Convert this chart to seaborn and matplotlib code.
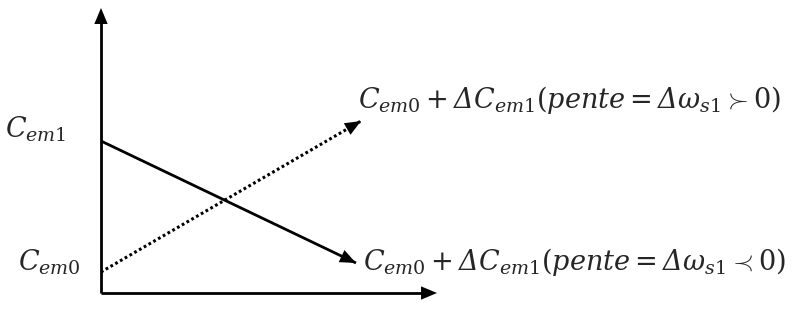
import matplotlib
matplotlib.use("Agg")
import matplotlib.pyplot as plt
import seaborn as sns
import pandas as pd

# Schematic torque lines (x: time from the start of the step, y: torque)
t_solid = [0, 255]
c_solid = [152, 30]          # from C_em1 down, slope < 0
t_dotted = [0, 260]
c_dotted = [21, 172]         # from C_em0 up, slope > 0

axis_x_len = 336
axis_y_len = 285

# \mathsf is mapped to the italic face below so that the capital Delta slants
lbl_cem1 = r"$C_{em1}$"
lbl_cem0 = r"$C_{em0}$"
lbl_up = r"$C_{em0}+\mathsf{\Delta} C_{em1}(pente=\mathsf{\Delta}\omega_{s1}\succ 0)$"
lbl_down = r"$C_{em0}+\mathsf{\Delta} C_{em1}(pente=\mathsf{\Delta}\omega_{s1}\prec 0)$"

sns.set_style("white")
plt.rcParams["mathtext.fontset"] = "custom"
plt.rcParams["mathtext.rm"] = "DejaVu Serif"
plt.rcParams["mathtext.it"] = "DejaVu Serif:italic"
plt.rcParams["mathtext.bf"] = "DejaVu Serif:bold"
plt.rcParams["mathtext.sf"] = "DejaVu Serif:italic"

fig = plt.figure(figsize=(7.92, 3.27), dpi=100)
ax = fig.add_axes([0, 0, 1, 1])
ax.set_xlim(-101, 691)
ax.set_ylim(-34, 293)
ax.axis("off")

solid = pd.DataFrame({"t": t_solid, "c": c_solid})
dotted = pd.DataFrame({"t": t_dotted, "c": c_dotted})
sns.lineplot(data=solid, x="t", y="c", ax=ax, color="black", lw=2.0,
             solid_capstyle="butt")
sns.lineplot(data=dotted, x="t", y="c", ax=ax, color="black", lw=2.2,
             linestyle=(0, (0.9, 0.9)))

head = dict(arrowstyle="-|>,head_length=11.5,head_width=4.8",
            color="black", lw=0, mutation_scale=1, shrinkA=0, shrinkB=0)


def arrowhead(p0, p1):
    # filled triangle whose tip sits on p1, oriented along p0 -> p1
    ax.annotate("", xy=p1, xytext=p0, arrowprops=head)


arrowhead((t_solid[0], c_solid[0]), (t_solid[1], c_solid[1]))
arrowhead((t_dotted[0], c_dotted[0]), (t_dotted[1], c_dotted[1]))

# coordinate axes
ax.plot([0, 0], [0, axis_y_len - 12], color="black", lw=2.0, solid_capstyle="butt")
ax.plot([0, axis_x_len - 12], [0, 0], color="black", lw=2.0, solid_capstyle="butt")
arrowhead((0, 0), (0, axis_y_len))
arrowhead((0, 0), (axis_x_len, 0))

fs = 19.5
ax.text(-96, c_solid[0] + 12, lbl_cem1, fontsize=fs, va="center", ha="left")
ax.text(-83, c_dotted[0] + 10, lbl_cem0, fontsize=fs, va="center", ha="left")
ax.text(t_dotted[1] - 3, c_dotted[1] + 21, lbl_up, fontsize=fs, va="center", ha="left")
ax.text(t_solid[1] + 7, c_solid[1] + 1, lbl_down, fontsize=fs, va="center", ha="left")

fig.savefig("out.png", dpi=100)
